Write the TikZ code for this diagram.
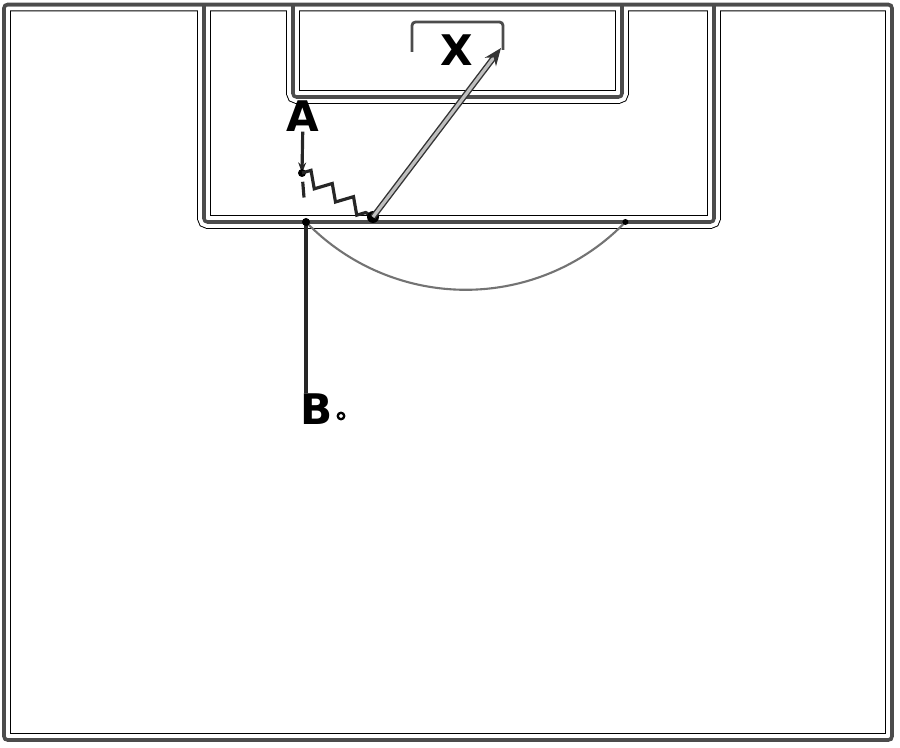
\documentclass[tikz,border=0pt]{standalone}
\usepackage{fontspec}
\setmainfont{DejaVu Sans}
\usetikzlibrary{arrows.meta,decorations.pathmorphing}
\begin{document}
\begin{tikzpicture}[core/.style={draw=black!70, line width=2pt, rounded corners=2pt},
  pitch/.style={core, preaction={draw=black, line width=0.55pt, double=white, double distance=6.6pt}},
  player/.style={font=\fontsize{24}{28}\selectfont\bfseries, inner sep=0pt},
  run/.style={draw=black!85, line width=1.8pt},
  pass/.style={draw=black!80, line width=0.8pt, double=black!25, double distance=1.8pt, -{Stealth[length=10pt, width=8pt]}},
  ball/.style={circle, draw, line width=1.3pt, minimum size=0.13cm, inner sep=0pt}]
	\useasboundingbox (0,0) rectangle (18,14.94);
	\begin{scope}
		\clip (0.08,0.14) rectangle (17.84,14.85);
		\draw[pitch] (0.08,0.14) rectangle (17.84,14.85)
			(4.08,14.85) -- (4.08,10.5) -- (14.28,10.5) -- (14.28,14.85)
			(5.86,14.85) -- (5.86,13.0) -- (12.44,13.0) -- (12.44,14.85);
	\end{scope}
	\draw[core] (0.08,0.14) rectangle (17.84,14.85);
	\draw[core, line width=1.6pt] (8.24,13.9) |- (10.06,14.5) -- (10.06,13.94);
	\node[player] (A) at (6.06,12.62) {A};
	\node[player] (X) at (9.14,13.94) {X};
	\node[player] (B) at (6.34,6.76) {B};
	\node[ball] (ball) at (6.82,6.62) {};
	\coordinate (a1) at (6.04,11.48); \coordinate (j) at (6.12,10.5);
	\coordinate (d) at (7.46,10.6); \coordinate (shot) at (10.02,13.98);
	\draw[black!55, line width=1.2pt] (j) arc[start angle=224, end angle=316, radius=4.44] coordinate (arcend);
	\fill (arcend) circle (0.06);
	\draw[run] (B.north -| j) -- (j); \fill (j) circle (0.08);
	\draw[run, -{Stealth[length=6pt]}] (A) -- (a1); \fill (a1) circle (0.08);
	\draw[run, dash pattern=on 0pt off 5pt on 9pt off 30pt] (a1) -- (j);
	\draw[run, decorate, decoration={zigzag, amplitude=1.4mm, segment length=5mm}] (a1) -- (d);
	\fill (d) circle (0.12);
	\draw[pass] (d) -- (shot);
\end{tikzpicture}
\end{document}
